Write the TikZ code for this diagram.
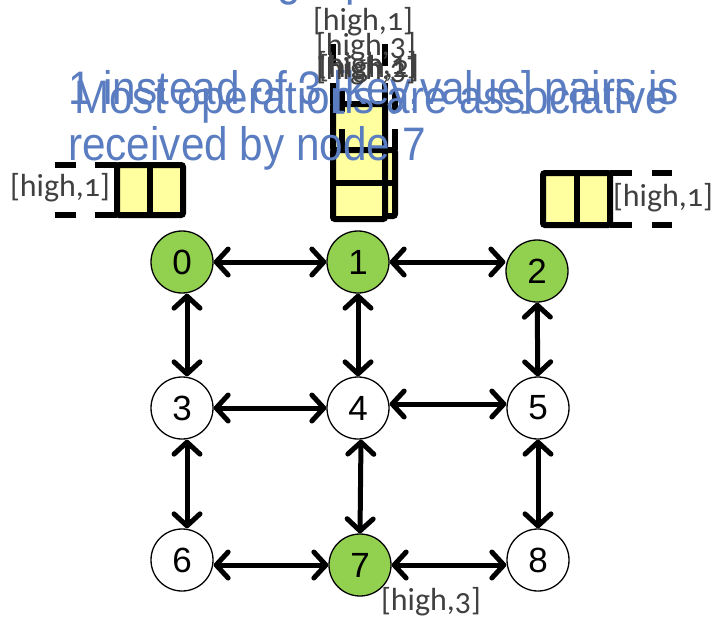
\documentclass[tikz,border=0pt]{standalone}
\usepackage{fontspec}
\setmainfont{Liberation Sans}
\newfontfamily\tagfont[Numbers=OldStyle]{Carlito}
\newfontfamily\notefont[FakeStretch=0.9]{Liberation Sans}
\usetikzlibrary{arrows.meta}
\definecolor{nodegreen}{RGB}{146,208,80}
\definecolor{queueyellow}{RGB}{255,255,160}
\definecolor{noteblue}{RGB}{90,124,192}
\definecolor{taggray}{RGB}{64,64,64}
\begin{document}
\begin{tikzpicture}[x=1pt,y=-1pt,
  vertex/.style={circle, draw=black, line width=1.3pt, minimum size=62pt,
    inner sep=0pt, font=\fontsize{35}{35}\selectfont},
  active/.style={vertex, fill=nodegreen},
  idle/.style={vertex, fill=white},
  link/.style={line width=5pt,
    {Straight Barb[length=12pt,width=26pt,round]}-{Straight Barb[length=12pt,width=26pt,round]}},
  cell/.style={draw=black, fill=queueyellow, line width=6pt, rounded corners=2pt},
  rail/.style={draw=black, line width=6pt},
  note/.style={text=noteblue, font=\notefont\fontsize{47}{47}\selectfont, inner sep=0pt, anchor=base west},
  tag/.style={text=taggray, font=\tagfont\fontsize{32}{32}\selectfont, inner sep=0pt},
]
\useasboundingbox (0,0) rectangle (715,619);

% queue beside node 0 (open to the left)
\filldraw[cell] (117,165) rectangle (183,215);
\draw[rail] (150,165) -- (150,215);
\draw[rail] (117,165) -- (95,165) (117,215) -- (95,215);
\draw[rail] (76,165) -- (55,165) (76,215) -- (55,215);

% queue beside node 2 (open to the right)
\filldraw[cell] (543,173) rectangle (610,225);
\draw[rail] (577,173) -- (577,225);
\draw[rail] (610,173) -- (632,173) (610,225) -- (632,225);
\draw[rail] (652,173) -- (672,173) (652,225) -- (672,225);

% stacked queues above node 1 (open at the top)
\filldraw[cell] (333,104) rectangle (385,150);
\draw[rail] (333,104) -- (333,83) (385,104) -- (385,83);
\draw[rail] (333,66) -- (333,44) (385,66) -- (385,44);
\filldraw[cell] (342,150) rectangle (395,216);
\draw[rail] (342,183) -- (395,183);
\draw[rail] (342,150) -- (342,129) (395,150) -- (395,129);
\draw[rail] (342,112) -- (342,90) (395,112) -- (395,90);
\filldraw[cell] (333,150) rectangle (385,219);
\draw[rail] (333,183) -- (385,183);

% headings
\node[note] (topg) at (277,-5) {g};
\node[note] (topp) at (345,-5) {p};
\node[note] (headA) at (68,104) {1 instead of 3 [key,value] pairs is};
\node[note] (headB) at (68,160) {received by node 7};
\node[note] (headC) at (74,113) {Most operations are associative};

% key/value tags
\node[tag] (tagA) at (363,22) {[high,1]};
\node[tag] (tagB) at (366,47) {[high,3]};
\node[tag] (tagC) at (367,66) {[high,1]};
\node[tag] (tagD) at (369,69) {[high,2]};
\node[tag] (tagE) at (366,71) {[high,3]};
\node[tag] (tagL) at (60,188) {[high,1]};
\node[tag] (tagR) at (663,198) {[high,1]};
\node[tag] (tagS) at (431,602) {[high,3]};

% grid of nodes
\node[active] (n0) at (182,262) {0};
\node[active] (n1) at (358,262) {1};
\node[active] (n2) at (537,271) {2};
\node[idle]   (n3) at (182,408) {3};
\node[idle]   (n4) at (358,408) {4};
\node[idle]   (n5) at (538,408) {5};
\node[idle]   (n6) at (182,560) {6};
\node[active] (n7) at (360,565) {7};
\node[idle]   (n8) at (538,560) {8};

% links
\draw[link] (n0) -- (n1);
\draw[link] (n1.east) -- (n1.east -| n2.west);
\draw[link] (n3) -- (n4);
\draw[link] ([yshift=4pt]n4.east) -- ([yshift=4pt]n5.west);
\draw[link] (n7.west -| n6.east) -- (n7.west);
\draw[link] (n7.east) -- (n7.east -| n8.west);
\draw[link] ([xshift=5pt]n0.south) -- ([xshift=5pt]n3.north);
\draw[link] (n1) -- (n4);
\draw[link] (n2) -- (n5);
\draw[link] ([xshift=5pt]n3.south) -- ([xshift=5pt]n6.north);
\draw[link] ([xshift=3pt]n4.south) -- (n7.north);
\draw[link] (n5) -- (n8);
\end{tikzpicture}
\end{document}
